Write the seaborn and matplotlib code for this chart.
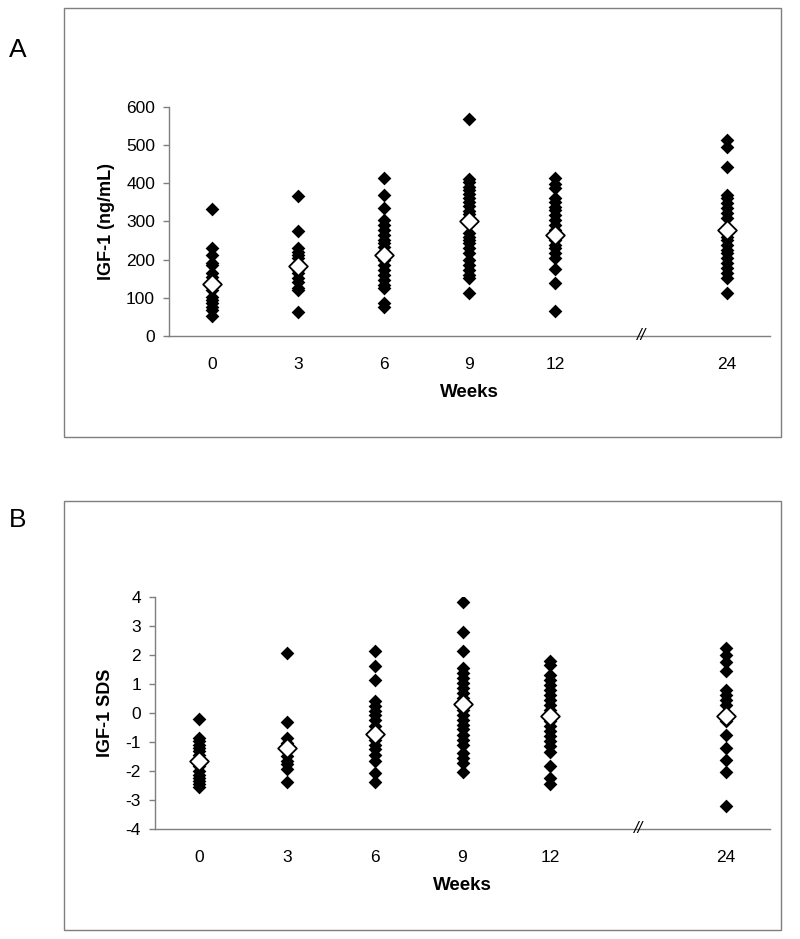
import pandas as pd
import numpy as np
import matplotlib
matplotlib.use("Agg")
import matplotlib.pyplot as plt
import seaborn as sns
from matplotlib.patches import Rectangle

# week categories (empty slot = axis break before week 24)
weeks = ["0", "3", "6", "9", "12", "", "24"]

# Panel A: IGF-1 (ng/mL) per visit
igf_w0 = [331, 229, 212, 190, 186, 164, 155, 138, 120, 103, 94, 86, 77, 68, 52]
igf_w3 = [365, 275, 229, 221, 212, 203, 190, 173, 164, 151, 142, 125, 120, 62]
igf_w6 = [414, 369, 336, 304, 290, 277, 264, 251, 242, 234, 199, 186, 173, 160,
          147, 133, 125, 86, 77]
igf_w9 = [567, 412, 403, 390, 382, 372, 360, 350, 340, 327, 318, 269, 260, 251,
          243, 229, 216, 199, 186, 173, 160, 151, 112]
igf_w12 = [413, 398, 388, 360, 351, 338, 330, 317, 304, 290, 277, 251, 238, 229,
           216, 203, 175, 138, 65]
igf_w24 = [512, 495, 443, 370, 362, 347, 334, 321, 308, 260, 251, 238, 225, 216,
           203, 190, 177, 164, 151, 112]
igf_mean = [136, 182, 212, 300, 263, 276]

# Panel B: IGF-1 SDS per visit
sds_w0 = [-0.21, -0.86, -0.98, -1.09, -1.21, -1.32, -1.44, -1.84, -2.01, -2.13,
          -2.24, -2.36, -2.44, -2.55]
sds_w3 = [2.07, -0.32, -0.86, -1.03, -1.49, -1.67, -1.78, -1.93, -2.39]
sds_w6 = [2.14, 1.61, 1.13, 0.40, 0.23, 0.06, -0.06, -0.23, -0.46, -0.92, -1.09,
          -1.26, -1.44, -1.67, -2.07, -2.39]
sds_w9 = [3.85, 2.79, 2.15, 1.55, 1.38, 1.21, 1.03, 0.86, 0.69, 0.52, 0.11, -0.06,
          -0.23, -0.40, -0.57, -0.75, -0.92, -1.09, -1.38, -1.55, -1.72, -2.05]
sds_w12 = [1.80, 1.67, 1.32, 1.15, 0.98, 0.80, 0.63, 0.46, 0.29, 0.11, -0.29, -0.46,
           -0.63, -0.80, -0.98, -1.15, -1.36, -1.84, -2.24, -2.47]
sds_w24 = [2.24, 2.01, 1.78, 1.44, 0.80, 0.63, 0.46, 0.29, -0.29, -0.75, -1.21,
           -1.61, -2.05, -3.20]
sds_mean = [-1.67, -1.21, -0.71, 0.32, -0.09, -0.09]


def long_df(cols):
    rows = []
    for wk, vals in zip(["0", "3", "6", "9", "12", "24"], cols):
        for v in vals:
            rows.append((wk, v))
    return pd.DataFrame(rows, columns=["week", "value"])


sns.set_theme(style="white")
plt.rcParams["font.family"] = ["Liberation Sans", "DejaVu Sans"]
plt.rcParams["text.color"] = "black"
plt.rcParams["axes.labelcolor"] = "black"
plt.rcParams["xtick.color"] = "black"
plt.rcParams["ytick.color"] = "black"

fig = plt.figure(figsize=(8, 9.39), dpi=100)

# outer frames around each panel
for y0 in (0.5346, 0.0096):
    fig.patches.append(Rectangle((0.08, y0), 0.896, 0.457, transform=fig.transFigure,
                                 fill=False, edgecolor="#7f7f7f", linewidth=1.0))

axA = fig.add_axes([0.21125, 0.6422, 0.75125, 0.2442])
axB = fig.add_axes([0.19375, 0.1175, 0.76875, 0.2464])

panels = [
    (axA, [igf_w0, igf_w3, igf_w6, igf_w9, igf_w12, igf_w24], igf_mean,
     "IGF-1 (ng/mL)", (0, 600), np.arange(0, 601, 100), "A", 0.947),
    (axB, [sds_w0, sds_w3, sds_w6, sds_w9, sds_w12, sds_w24], sds_mean,
     "IGF-1 SDS", (-4, 4), np.arange(-4, 5, 1), "B", 0.446),
]

for ax, cols, means, ylab, ylim, yticks, letter, ly in panels:
    df = long_df(cols)
    mdf = pd.DataFrame({"week": ["0", "3", "6", "9", "12", "24"], "value": means})
    sns.stripplot(data=df, x="week", y="value", order=weeks, jitter=False,
                  marker="D", size=7, color="black", linewidth=0, ax=ax)
    sns.stripplot(data=mdf, x="week", y="value", order=weeks, jitter=False,
                  marker="D", size=9.5, color="white", edgecolor="black",
                  linewidth=1.3, ax=ax)
    ax.set_xlim(-0.5, 6.5)
    ax.set_ylim(*ylim)
    ax.set_yticks(yticks)
    ax.set_yticklabels([str(t) for t in yticks], fontsize=12.5)
    ax.set_xticklabels(weeks, fontsize=12.5)
    for s in ("top", "right"):
        ax.spines[s].set_visible(False)
    for s in ("left", "bottom"):
        ax.spines[s].set_color("#7f7f7f")
        ax.spines[s].set_linewidth(1.0)
    ax.tick_params(axis="y", left=True, direction="out", length=4, width=1,
                   color="#7f7f7f", labelcolor="black", pad=6)
    ax.tick_params(axis="x", bottom=False, pad=9, labelcolor="black")
    ax.set_xlabel("Weeks", fontsize=13.5, fontweight="bold", labelpad=9)
    ax.set_ylabel(ylab, fontsize=13, fontweight="bold", labelpad=8)
    ax.text(5, ylim[0], "//", ha="center", va="center", fontsize=12,
            style="italic", clip_on=False)
    fig.text(0.0225, ly, letter, fontsize=19, ha="center", va="center")

fig.savefig("out.png", dpi=100)
